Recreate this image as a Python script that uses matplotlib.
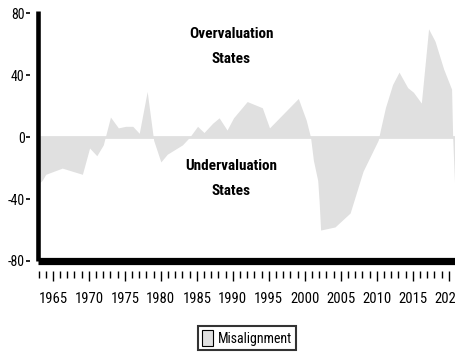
import numpy as np
import matplotlib.pyplot as plt
from matplotlib.patches import Patch
from matplotlib.ticker import MultipleLocator

plt.rcParams['font.family'] = ['Roboto Condensed', 'DejaVu Sans']

# misalignment (%) by year
years = [1963.0, 1963.5, 1964.0, 1966.3, 1969.1, 1970.1, 1971.1, 1972.0, 1973.0,
         1974.1, 1975.1, 1976.1, 1977.0, 1978.1, 1979.0, 1980.0, 1980.9, 1983.0,
         1984.0, 1985.1, 1986.0, 1987.2, 1988.1, 1989.2, 1990.1, 1992.0, 1994.1,
         1995.1, 1999.1, 2000.2, 2000.8, 2001.2, 2001.8, 2002.0, 2002.2, 2004.2,
         2006.3, 2008.1, 2010.2, 2010.5, 2011.2, 2012.2, 2013.1, 2014.3, 2015.1,
         2016.2, 2017.2, 2018.1, 2019.3, 2020.4, 2020.55, 2020.9]
misalignment = [-30, -28, -24, -20, -24, -7, -12, -5, 13,
                6, 7, 7, 2.5, 29.5, -2, -16, -11, -5,
                0, 7, 3, 9, 12.5, 4.6, 12.5, 23, 19,
                6, 25, 11, 0, -15, -28, -42, -60, -58,
                -49, -22, -2, 4.6, 19, 34, 42, 32, 29,
                22, 70, 62, 44, 31, 0, -40]

x = np.array(years)
y = np.array(misalignment)
fill_col = '#e0e0e0'

fig = plt.figure(figsize=(4.56, 3.54), dpi=100)
ax = fig.add_axes([38.5 / 456, 93 / 354, 421 / 456, 250 / 354])

ax.fill_between(x, 0, y, color=fill_col, lw=0)
ax.axhline(0, color=fill_col, lw=2)

ax.set_xlim(1963, 2021.5)
ax.set_ylim(-80, 81.5)

# thick axis lines drawn by hand so the ticks can sit clear of them
ax.plot([0, 0], [0, 1], transform=ax.transAxes, color='black', lw=3.3,
        clip_on=False, solid_capstyle='butt')
ax.plot([0, 1], [0, 0], transform=ax.transAxes, color='black', lw=5.2,
        clip_on=False, solid_capstyle='butt')
for s in ax.spines.values():
    s.set_visible(False)
ax.spines['bottom'].set_position(('outward', 7))
ax.spines['left'].set_position(('outward', 6))

ax.set_yticks([-80, -40, 0, 40, 80])
ax.set_yticklabels(['-80', '-40', '0', '40', '80'])
ax.xaxis.set_minor_locator(MultipleLocator(1))
ax.set_xticks(np.arange(1965, 2025, 5))
ax.set_xticklabels([str(v) for v in range(1965, 2025, 5)])
ax.tick_params(axis='y', length=3, width=1.2, pad=1, labelsize=10)
ax.tick_params(axis='x', which='major', length=7, width=1, pad=8, labelsize=10.5)
ax.tick_params(axis='x', which='minor', length=5, width=1)

ax.text(1989.8, 66.5, 'Overvaluation', ha='center', va='center',
        fontsize=11, fontweight='bold')
ax.text(1989.7, 50.5, 'States', ha='center', va='center',
        fontsize=11, fontweight='bold')
ax.text(1989.8, -18.5, 'Undervaluation', ha='center', va='center',
        fontsize=11, fontweight='bold')
ax.text(1989.7, -34.5, 'States', ha='center', va='center',
        fontsize=11, fontweight='bold')

handle = Patch(facecolor=fill_col, edgecolor='black', lw=0.8)
leg = fig.legend([handle], ['Misalignment'], loc='center',
                 bbox_to_anchor=(247 / 456, 1 - 338 / 354), fontsize=10,
                 frameon=True, fancybox=False, handlelength=0.8,
                 handleheight=1.3, handletextpad=0.3, borderpad=0.3)
leg.get_frame().set_edgecolor('black')
leg.get_frame().set_linewidth(1.5)

fig.savefig('out.png', dpi=100)
